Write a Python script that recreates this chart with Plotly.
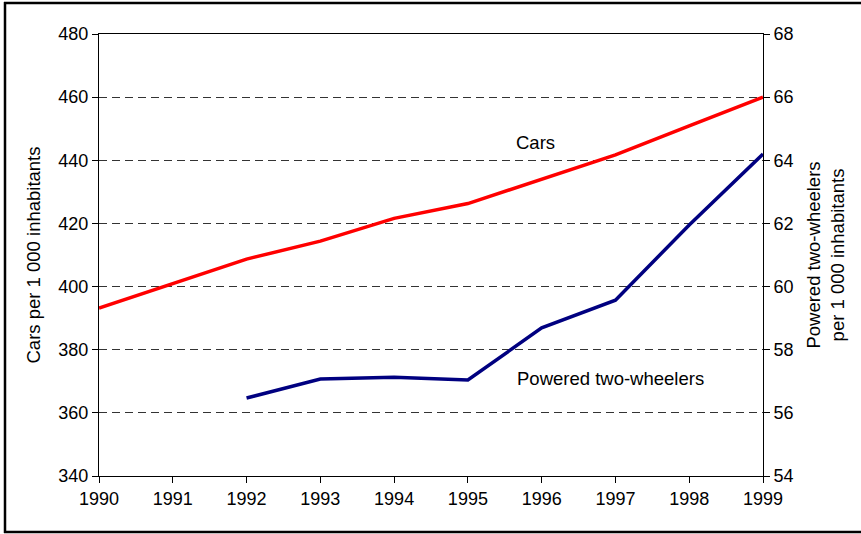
import plotly.graph_objects as go

years = [1990, 1991, 1992, 1993, 1994, 1995, 1996, 1997, 1998, 1999]
cars = [393.2, 401.0, 408.7, 414.4, 421.6, 426.3, 434.0, 441.7, 450.9, 460.0]
ptw_years = [1992, 1993, 1994, 1995, 1996, 1997, 1998, 1999]
ptw = [56.47, 57.07, 57.13, 57.04, 58.69, 59.57, 61.95, 64.2]

FONT = "Liberation Sans, Arial, sans-serif"

fig = go.Figure()
fig.add_trace(go.Scatter(x=years, y=cars, mode="lines", name="Cars",
                         line=dict(color="#ff0000", width=3.5), yaxis="y"))
fig.add_trace(go.Scatter(x=ptw_years, y=ptw, mode="lines", name="Powered two-wheelers",
                         line=dict(color="#000080", width=3.5), yaxis="y2"))

W, H = 861, 534
L, R, T, B = 99, 98, 34, 58
pw, ph = W - L - R, H - T - B

def px(x):
    return (x - L) / pw

def py(y):
    return (H - B - y) / ph

fig.update_layout(
    width=W, height=H,
    margin=dict(l=L, r=R, t=T, b=B, autoexpand=False),
    paper_bgcolor="white", plot_bgcolor="white",
    showlegend=False,
    font=dict(family=FONT, size=18, color="black"),
    xaxis=dict(range=[1990, 1999], tickvals=years, ticks="outside", ticklen=6,
               tickcolor="black", showline=True, linecolor="black", linewidth=1,
               mirror=True, showgrid=False, zeroline=False, automargin=False,
               tickfont=dict(size=18)),
    yaxis=dict(range=[340, 480], dtick=20, ticks="outside", ticklen=6,
               tickcolor="black", showline=True, linecolor="black", linewidth=1,
               showgrid=True, gridcolor="#333333", gridwidth=1, griddash="8px,5px",
               zeroline=False, automargin=False, tickfont=dict(size=18),
               title=dict(text="Cars per 1 000 inhabitants", font=dict(size=18.5), standoff=12)),
    yaxis2=dict(range=[54, 68], dtick=2, overlaying="y", side="right", ticks="outside",
                ticklen=6, tickcolor="black", showline=True, linecolor="black", linewidth=1,
                showgrid=False, zeroline=False, automargin=False, tickfont=dict(size=18),
                title=dict(text="Powered two-wheelers<br>per 1 000 inhabitants",
                           font=dict(size=18.5), standoff=14)),
    annotations=[
        dict(x=1995.91, y=445.5, xref="x", yref="y", text="Cars", showarrow=False,
             font=dict(size=18.5)),
        dict(x=1996.93, y=371.0, xref="x", yref="y", text="Powered two-wheelers",
             showarrow=False, font=dict(size=18.5)),
    ],
    shapes=[
        dict(type="line", xref="paper", yref="paper", x0=px(4), x1=px(870), y0=py(3), y1=py(3),
             line=dict(color="black", width=2.5)),
        dict(type="line", xref="paper", yref="paper", x0=px(5), x1=px(5), y0=py(2), y1=py(533),
             line=dict(color="black", width=2.5)),
        dict(type="line", xref="paper", yref="paper", x0=px(4), x1=px(870), y0=py(532), y1=py(532),
             line=dict(color="black", width=2.5)),
    ],
)

fig.write_html("out.html", config={"displayModeBar": False},
               post_script="document.body.style.margin='0';document.body.style.overflow='hidden';")
